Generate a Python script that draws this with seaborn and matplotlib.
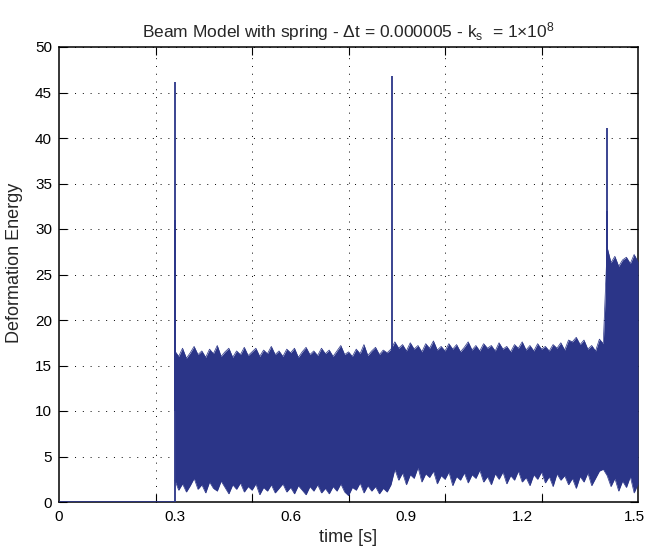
import numpy as np
import pandas as pd
import matplotlib
matplotlib.use("Agg")
import matplotlib.pyplot as plt
import matplotlib.transforms as mtransforms
import seaborn as sns
from matplotlib.ticker import FixedLocator, NullFormatter

# ---------------- data ----------------
pre_time = [0.0, 0.2995]
pre_energy = [0.0, 0.0]

# band sample times (s) for the dense oscillation envelope
band_time = np.round(np.arange(0.30, 1.5001, 0.01), 2)

band_upper = [
    16.6, 16.0, 16.9, 15.8, 16.4, 17.1, 16.2, 16.6, 15.9, 16.8,
    16.3, 17.2, 16.0, 16.5, 16.9, 15.9, 16.6, 16.2, 17.0, 16.1,
    16.5, 16.9, 16.0, 16.7, 16.3, 17.1, 16.2, 16.6, 16.0, 16.8,
    16.4, 16.9, 15.9, 16.5, 17.0, 16.2, 16.6, 16.1, 16.9, 16.3,
    16.7, 16.0, 16.6, 17.2, 16.2, 16.5, 16.0, 16.8, 16.3, 17.3,
    16.1, 16.6, 17.0, 16.2, 16.7, 16.4, 16.8,
    17.6, 16.9, 17.3, 16.6, 17.5, 16.8, 17.2, 16.5, 17.4, 16.9,
    17.7, 16.7, 17.1, 16.6, 17.4, 16.8, 17.3, 16.5, 17.0, 17.6,
    16.7, 17.2, 16.6, 17.4, 16.9, 17.2, 16.6, 17.5, 16.8, 17.1,
    16.5, 17.3, 16.9, 17.6, 16.7, 17.2, 16.6, 17.4, 16.8, 17.1,
    16.6, 17.3, 16.9, 17.5, 16.7, 17.8, 17.6, 18.1, 17.3, 17.8,
    16.8, 17.2, 16.6, 17.9, 17.4,
    28.0, 26.3, 27.0, 25.9, 26.6, 26.9, 26.2, 27.2, 26.4,
]

band_lower = [
    2.4, 1.3, 2.0, 1.1, 1.8, 2.6, 1.4, 1.9, 1.0, 2.2,
    1.5, 1.2, 2.3, 1.6, 0.9, 1.9, 1.4, 2.1, 1.1, 1.7,
    1.3, 2.0, 0.8, 1.6, 1.2, 1.9, 1.0, 1.5, 2.0, 1.1,
    1.6, 0.9, 1.8, 1.3, 0.8, 1.7, 1.2, 1.9, 1.0, 1.5,
    0.9, 1.7, 1.2, 2.0, 1.1, 0.7, 1.6, 1.3, 2.1, 1.0,
    1.8, 1.2, 1.7, 0.9, 1.5, 1.1, 1.9,
    3.6, 2.4, 3.2, 1.9, 3.0, 2.6, 3.8, 2.2, 3.1, 2.7,
    3.4, 2.0, 2.9, 2.5, 3.3, 1.8, 2.8, 2.4, 3.2, 2.1,
    3.0, 2.6, 3.5, 2.2, 2.8, 1.9, 3.1, 2.5, 3.3, 2.0,
    2.9, 2.4, 3.4, 2.2, 2.7, 1.8, 3.0, 2.5, 3.3, 2.1,
    2.8, 1.7, 3.1, 2.4, 2.9, 1.9, 2.6, 1.5, 2.8, 2.2,
    3.2, 1.8, 2.6, 3.4, 3.6,
    2.9, 1.7, 2.6, 1.2, 2.3, 1.6, 2.8, 1.0, 2.0,
]

spike_time = [0.2998, 0.862, 1.419]
spike_base = [0.0, 10.0, 10.0]
spike_peak = [46.2, 46.8, 41.1]
subspike_time = [0.3010, 1.4205]
subspike_base = [10.0, 10.0]
subspike_peak = [31.0, 32.0]

xtick_labels = ["0", "0.3", "0.6", "0.9", "1.2", "1.5"]
xtick_values = [0.0, 0.3, 0.6, 0.9, 1.2, 1.5]
xgrid_values = [0.25, 0.5, 0.75, 1.0, 1.25]
ytick_values = list(range(0, 51, 5))

# ---------------- style ----------------
sns.set_theme(style="ticks")
plt.rcParams["font.family"] = ["Liberation Sans", "DejaVu Sans"]
plt.rcParams["mathtext.fontset"] = "custom"
plt.rcParams["mathtext.rm"] = "Liberation Sans"
plt.rcParams["mathtext.it"] = "Liberation Sans:italic"

color = "#2b3588"

fig = plt.figure(figsize=(6.47, 5.51), dpi=100)
fig.patch.set_facecolor("white")
ax = fig.add_axes([59 / 647, (551 - 502) / 551, (638 - 59) / 647, (502 - 47) / 551])
ax.set_facecolor("white")

# zero segment before the impact
pre_df = pd.DataFrame({"t": pre_time, "e": pre_energy})
sns.lineplot(data=pre_df, x="t", y="e", ax=ax, color=color, linewidth=1.2, zorder=3)

# dense oscillation band
ax.fill_between(band_time, band_lower, band_upper, color=color, linewidth=0, zorder=3)
band_df = pd.DataFrame({"t": np.concatenate([band_time, band_time]),
                        "e": np.concatenate([band_upper, band_lower]),
                        "edge": ["upper"] * len(band_time) + ["lower"] * len(band_time)})
sns.lineplot(data=band_df, x="t", y="e", units="edge", estimator=None, ax=ax,
             color=color, linewidth=0.5, zorder=3)

# impact spikes
ax.vlines(spike_time, spike_base, spike_peak, color=color, linewidth=1.3, zorder=4)
ax.vlines(subspike_time, subspike_base, subspike_peak, color=color, linewidth=1.3, zorder=4)

# ---------------- axes ----------------
ax.set_xlim(0, 1.5)
ax.set_ylim(0, 50)

ax.xaxis.set_major_locator(FixedLocator(xtick_values))
ax.set_xticklabels(xtick_labels)
ax.xaxis.set_minor_locator(FixedLocator(xgrid_values))
ax.xaxis.set_minor_formatter(NullFormatter())
ax.set_yticks(ytick_values)
ax.set_yticklabels([str(v) for v in ytick_values])

ax.tick_params(axis="x", which="major", length=0, pad=6, labelsize=11, colors="black")
ax.tick_params(axis="x", which="minor", direction="in", length=6, width=0.8,
               top=True, bottom=True, color="black")
ax.tick_params(axis="y", which="major", direction="in", length=6, width=0.8,
               left=True, right=True, pad=5, labelsize=11, colors="black")

# nudge the last x label so it stays inside the figure
last = ax.get_xticklabels()[-1]
last.set_transform(last.get_transform() +
                   mtransforms.ScaledTranslation(-4 / 100, 0, fig.dpi_scale_trans))

grid_kw = dict(color="black", linewidth=0.7, linestyle=(0, (1, 7)))
ax.grid(False)
ax.xaxis.grid(True, which="minor", **grid_kw)
ax.yaxis.grid(True, which="major", **grid_kw)
ax.set_axisbelow(True)

for s in ax.spines.values():
    s.set_visible(True)
    s.set_color("black")
    s.set_linewidth(1.1)

ax.set_xlabel("time [s]", fontsize=13, labelpad=3)
ax.set_ylabel("Deformation Energy", fontsize=13)
ax.yaxis.set_label_coords((23 - 59) / 579, 0.525)
ax.set_title(r"Beam Model with spring - $\mathregular{\Delta}$t = 0.000005 - k$_\mathregular{s}$  = 1$\mathregular{\times}$10$^\mathregular{8}$",
             fontsize=12.5, pad=7)

fig.savefig("out.png", dpi=100, facecolor="white")
